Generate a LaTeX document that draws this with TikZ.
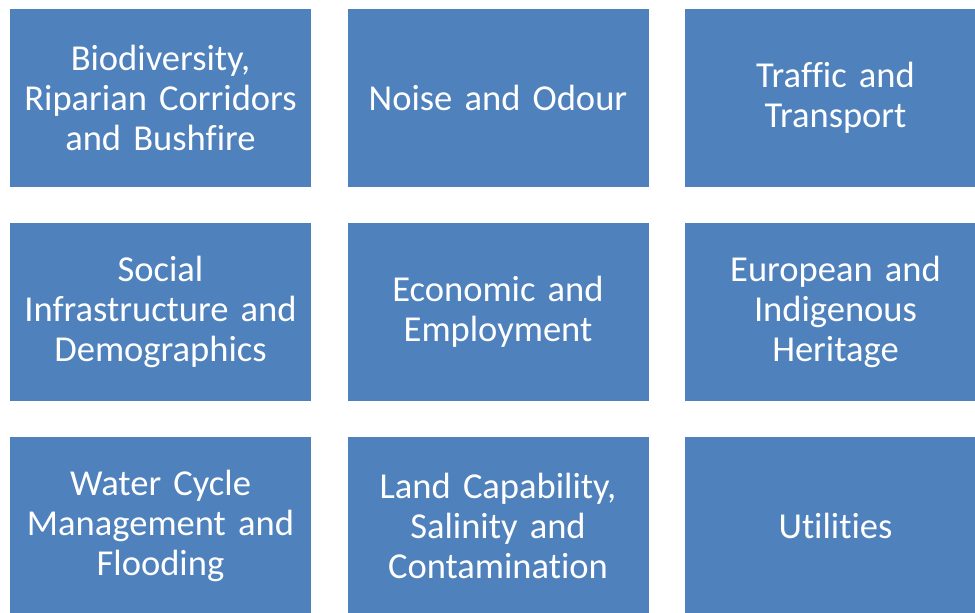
\documentclass[tikz,border=0pt]{standalone}
\usepackage{fontspec}
\setmainfont{Carlito}[Ligatures=NoCommon]
\usepackage{tikz}
\definecolor{boxblue}{HTML}{4F81BD}

\begin{document}
\begin{tikzpicture}[x=0.75pt, y=-0.75pt,
    areabox/.style={fill=boxblue, draw=none, text=white, minimum width=225.75pt,
        minimum height=133.5pt, text width=222pt, inner sep=0pt, align=center,
        font=\fontsize{27.4}{30}\selectfont}]

    \useasboundingbox (0,0) rectangle (975,612);
    \clip (0,0) rectangle (975,612);

    % first row
    \node[areabox] (bio) at (160.5, 97.5) {Biodiversity,\\Riparian Corridors\\and Bushfire};
    \node[areabox] (noise) at (498, 97.5) {Noise and Odour};
    \node[areabox] (traffic) at (835.5, 97.5) {Traffic and\\Transport};

    % second row
    \node[areabox] (social) at (160.5, 312) {Social\\Infrastructure and\\Demographics};
    \node[areabox] (econ) at (498, 312) {Economic and\\Employment};
    \node[areabox] (heritage) at (835.5, 312) {European and\\Indigenous\\Heritage};

    % third row
    \node[areabox] (water) at (160.5, 526) {Water Cycle\\Management and\\Flooding};
    \node[areabox] (land) at (498, 526) {Land Capability,\\Salinity and\\Contamination};
    \node[areabox] (util) at (835.5, 526) {Utilities};
\end{tikzpicture}
\end{document}
